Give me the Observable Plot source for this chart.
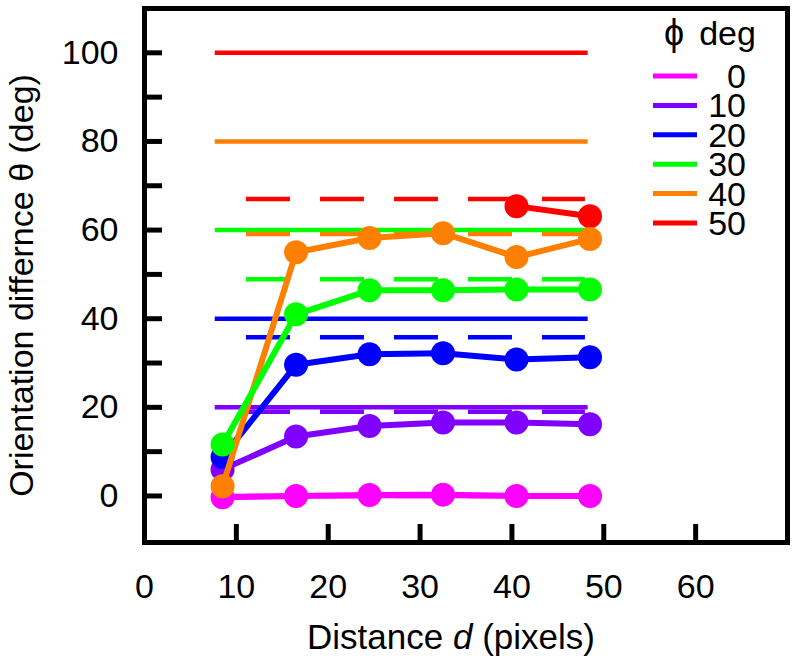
<!DOCTYPE html>
<html>
<head>
<meta charset="utf-8">
<script src="https://cdn.jsdelivr.net/npm/d3@7"></script>
<script src="https://cdn.jsdelivr.net/npm/@observablehq/plot@0.6"></script>
<style>
  body { margin: 0; background: #fff; }
  #chart svg { display: block; }
</style>
</head>
<body>
<div id="chart"></div>
<script>
// ---- data ----
const distance = [8.5, 16.5, 24.5, 32.5, 40.5, 48.5];
const phiDeg   = [0, 10, 20, 30, 40, 50];
const colors   = ["#ff00ff", "#8000ff", "#0000ff", "#00ff00", "#ff8000", "#ff0000"];

const theta0  = [-0.3, 0.0, 0.2, 0.3, 0.0, 0.0];
const theta10 = [6.0, 13.4, 15.8, 16.6, 16.6, 16.2];
const theta20 = [8.8, 29.6, 32.0, 32.2, 30.8, 31.3];
const theta30 = [11.6, 41.0, 46.4, 46.4, 46.6, 46.6];
const theta40 = [2.2, 55.0, 58.2, 59.3, 53.9, 58.0];
const theta50 = [null, null, null, null, 65.4, 63.1];

const solidLevels  = [0, 20, 40, 60, 80, 100];
const dashedLevels = [0, 19.0, 35.8, 48.9, 59.1, 67.0];
const solidSpan  = [7.7, 48.3];
const dashedSpan = [11.1, 48.0];

const xTicks  = [0, 10, 20, 30, 40, 50, 60];
const yTicks  = [0, 10, 20, 30, 40, 50, 60, 70, 80, 90, 100];
const yLabels = [0, 20, 40, 60, 80, 100];
const xDomain = [0, 70];
const yDomain = [-10.5, 110];

const drawOrder = [50, 0, 10, 20, 40, 30];
const xTitleParts = ["Distance ", "d", " (pixels)"];
const yTitle = "Orientation differnce θ (deg)";
const legendTitleParts = ["ϕ", "deg"];

// ---- build tables ----
const series = [theta0, theta10, theta20, theta30, theta40, theta50];
const refs = phiDeg.map((p, i) => ({phi: p, solid: solidLevels[i], dashed: dashedLevels[i], color: colors[i]}));

const W = 796, H = 668, mL = 144, mR = 9, mT = 8, mB = 126;
const frameW = W - mL - mR, frameH = H - mT - mB;
const tickLen = 18;

const marks = [
  Plot.ruleY(refs, {y: "solid", x1: solidSpan[0], x2: solidSpan[1], stroke: "color", strokeWidth: 4.5}),
  Plot.ruleY(refs, {y: "dashed", x1: dashedSpan[0], x2: dashedSpan[1], stroke: "color", strokeWidth: 4.5, strokeDasharray: "44,30"})
];
drawOrder.forEach(p => {
  const i = phiDeg.indexOf(p);
  const pts = [];
  series[i].forEach((v, j) => { if (v != null) pts.push({d: distance[j], theta: v, color: colors[i]}); });
  marks.push(Plot.line(pts, {x: "d", y: "theta", stroke: "color", strokeWidth: 6}));
  marks.push(Plot.dot(pts, {x: "d", y: "theta", fill: "color", r: 12}));
});
marks.push(
  Plot.tickX(xTicks, {x: d => d, insetTop: frameH - tickLen, stroke: "black", strokeWidth: 5}),
  Plot.tickY(yTicks, {y: d => d, insetRight: frameW - tickLen, stroke: "black", strokeWidth: 5}),
  Plot.axisX(xTicks, {tickSize: 0, tickPadding: 31, label: null}),
  Plot.axisY(yLabels, {tickSize: 0, tickPadding: 26, label: null}),
  Plot.frame({stroke: "black", strokeWidth: 5}),
  Plot.text([yTitle], {frameAnchor: "left", textAnchor: "middle", lineAnchor: "middle", rotate: -90, dx: -122, dy: 10, fill: "black"}),
  Plot.text([xTitleParts.join("")], {frameAnchor: "bottom", textAnchor: "middle", lineAnchor: "bottom", dx: -15, dy: 106, fill: "black", fontSize: 35})
);

const chart = Plot.plot({
  width: W, height: H,
  marginLeft: mL, marginRight: mR, marginTop: mT, marginBottom: mB,
  x: {domain: xDomain, axis: null},
  y: {domain: yDomain, axis: null},
  color: {type: "identity"},
  style: {fontFamily: "'Liberation Sans', Arial, Helvetica, sans-serif", fontSize: "34px", color: "black", background: "white"},
  marks
});
document.getElementById("chart").appendChild(chart);

// italic "d" in the x title
const svg = d3.select(chart);
svg.selectAll("text").filter(function() { return this.textContent === xTitleParts.join(""); })
  .each(function() {
    const t = d3.select(this);
    t.text(null);
    xTitleParts.forEach((s, k) => t.append("tspan").text(s).style("font-style", k === 1 ? "italic" : null));
  });

// legend (top-right inside the frame)
const lg = svg.append("g").attr("font-size", 34).attr("fill", "black");
const ht = lg.append("text").attr("x", 664).attr("y", 45).attr("text-anchor", "start");
ht.append("tspan").attr("font-size", 36).text(legendTitleParts[0]);
ht.append("tspan").attr("dx", 15).text(legendTitleParts[1]);
phiDeg.forEach((p, i) => {
  const y = 76 + 29.4 * i;
  lg.append("line").attr("x1", 653).attr("x2", 697).attr("y1", y).attr("y2", y)
    .attr("stroke", colors[i]).attr("stroke-width", 5);
  lg.append("text").attr("x", 746).attr("y", y).attr("dy", "0.35em").attr("text-anchor", "end").text(p);
});
</script>
</body>
</html>
